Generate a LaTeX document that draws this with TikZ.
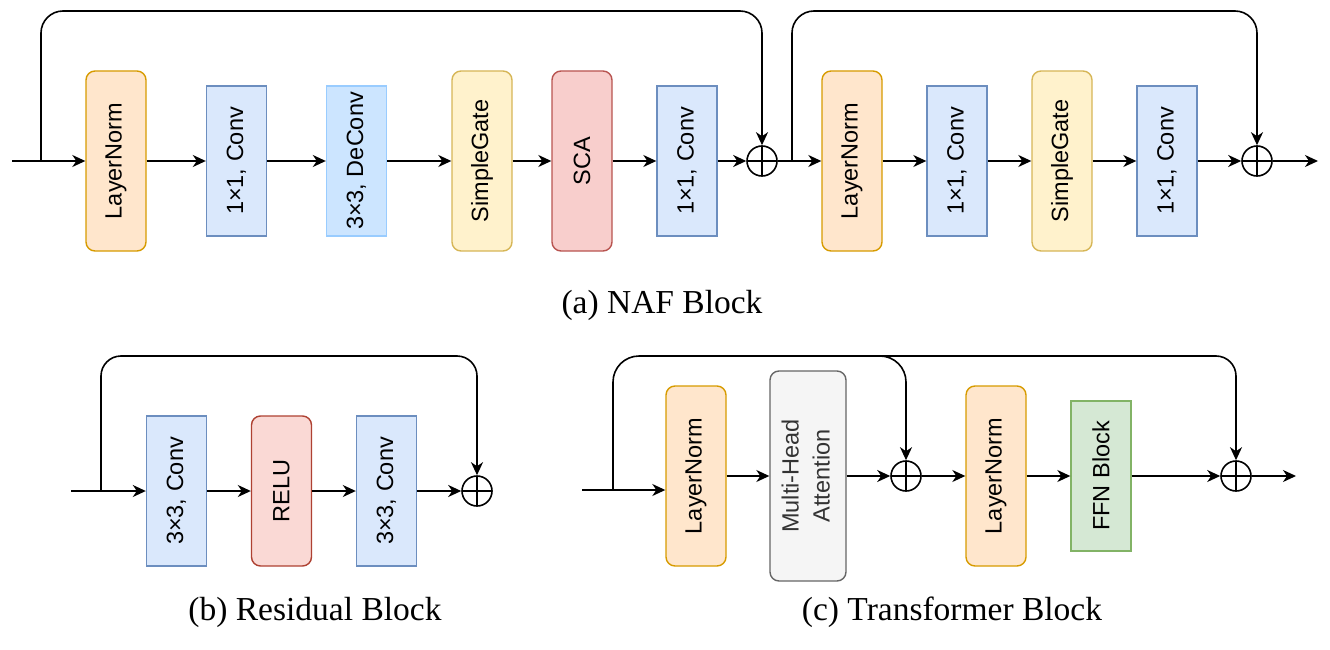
\documentclass[tikz,border=0pt]{standalone}
\usepackage{fontspec}
\usepackage{graphicx}
\setmainfont{Liberation Serif}
\newfontfamily\boxfont{Liberation Sans}
\usetikzlibrary{arrows.meta}
\definecolor{lnfill}{HTML}{FFE6CC}\definecolor{lndraw}{HTML}{D79B00}
\definecolor{cvfill}{HTML}{DAE8FC}\definecolor{cvdraw}{HTML}{6C8EBF}
\definecolor{dcfill}{HTML}{CCE5FF}\definecolor{dcdraw}{HTML}{99CCFF}
\definecolor{sgfill}{HTML}{FFF2CC}\definecolor{sgdraw}{HTML}{D6B656}
\definecolor{scfill}{HTML}{F8CECC}\definecolor{scdraw}{HTML}{B85450}
\definecolor{rlfill}{HTML}{FAD9D5}\definecolor{rldraw}{HTML}{AE4132}
\definecolor{mhfill}{HTML}{F5F5F5}\definecolor{mhdraw}{HTML}{666666}\definecolor{mhtext}{HTML}{333333}
\definecolor{fffill}{HTML}{D5E8D4}\definecolor{ffdraw}{HTML}{82B366}
\tikzset{
  blk/.style={draw, line width=1.4pt, minimum width=60pt, inner sep=0pt,
    font=\boxfont\fontsize{23.5}{31}\selectfont},
  rblk/.style={blk, rounded corners=9pt},
  tallbox/.style={minimum height=180pt},
  shortbox/.style={minimum height=150pt},
  lnbox/.style={rblk, tallbox, fill=lnfill, draw=lndraw},
  cvbox/.style={blk, shortbox, fill=cvfill, draw=cvdraw},
  dcbox/.style={blk, shortbox, fill=dcfill, draw=dcdraw},
  sgbox/.style={rblk, tallbox, fill=sgfill, draw=sgdraw},
  scbox/.style={rblk, tallbox, fill=scfill, draw=scdraw},
  rlbox/.style={rblk, shortbox, fill=rlfill, draw=rldraw},
  mhbox/.style={rblk, minimum width=76pt, minimum height=210pt, fill=mhfill, draw=mhdraw, text=mhtext},
  ffbox/.style={blk, shortbox, fill=fffill, draw=ffdraw},
  arr/.style={line width=1.6pt, -{Stealth[length=13pt,width=12pt,inset=4pt]}},
  oplus/.style={circle, draw, line width=1.6pt, minimum size=30pt, inner sep=0pt,
    path picture={\draw[line width=1.6pt] (path picture bounding box.north) -- (path picture bounding box.south)
      (path picture bounding box.west) -- (path picture bounding box.east);}},
  captxt/.style={font=\fontsize{33.5}{38}\selectfont, anchor=base, inner sep=0pt},
}
\newcommand{\rt}[1]{\rotatebox{90}{#1}}
\begin{document}
\begin{tikzpicture}[x=1pt,y=-1pt]
\useasboundingbox (0,0) rectangle (1330,650);

% ---------------- (a) NAF Block ----------------
\coordinate (ain) at (12,161);
\coordinate (abr) at (41,161);
\node[lnbox] (aln1) at (116,161) {\rt{LayerNorm}};
\node[cvbox] (acv1) at (236.5,161) {\rt{1×1, Conv}};
\node[dcbox] (adc) at (356.5,161) {\rt{3×3, DeConv}};
\node[sgbox] (asg1) at (482,161) {\rt{SimpleGate}};
\node[scbox] (asca) at (582,161) {\rt{SCA}};
\node[cvbox] (acv2) at (687,161) {\rt{1×1, Conv}};
\node[oplus] (aop1) at (762,161) {};
\coordinate (abr2) at (792,161);
\node[lnbox] (aln2) at (852,161) {\rt{LayerNorm}};
\node[cvbox] (acv3) at (957,161) {\rt{1×1, Conv}};
\node[sgbox] (asg2) at (1062,161) {\rt{SimpleGate}};
\node[cvbox] (acv4) at (1167,161) {\rt{1×1, Conv}};
\node[oplus] (aop2) at (1257,161) {};
\coordinate (aout) at (1318,161);

\draw[arr] (ain) -- (aln1);
\draw[arr] (aln1) -- (acv1);
\draw[arr] (acv1) -- (adc);
\draw[arr] (adc) -- (asg1);
\draw[arr] (asg1) -- (asca);
\draw[arr] (asca) -- (acv2);
\draw[arr] (acv2) -- (aop1);
\draw[arr] (aop1) -- (aln2);
\draw[arr] (aln2) -- (acv3);
\draw[arr] (acv3) -- (asg2);
\draw[arr] (asg2) -- (acv4);
\draw[arr] (acv4) -- (aop2);
\draw[arr] (aop2) -- (aout);
\draw[arr, rounded corners=22pt] (abr) -- (41,11) -- (aop1.north |- 0,11) -- (aop1.north);
\draw[arr, rounded corners=22pt] (abr2) -- (792,11) -- (aop2.north |- 0,11) -- (aop2.north);
\node[captxt] (capa) at (662,313) {(a) NAF Block};

% ---------------- (b) Residual Block ----------------
\coordinate (bin) at (71,491);
\coordinate (bbr) at (101,491);
\node[cvbox] (bcv1) at (176.5,491) {\rt{3×3, Conv}};
\node[rlbox] (brl) at (281.5,491) {\rt{RELU}};
\node[cvbox] (bcv2) at (386.5,491) {\rt{3×3, Conv}};
\node[oplus] (bop) at (477,491) {};
\draw[arr] (bin) -- (bcv1);
\draw[arr] (bcv1) -- (brl);
\draw[arr] (brl) -- (bcv2);
\draw[arr] (bcv2) -- (bop);
\draw[arr, rounded corners=20pt] (bbr) -- (101,356) -- (bop.north |- 0,356) -- (bop.north);
\node[captxt] (capb) at (315,620) {(b) Residual Block};

% ---------------- (c) Transformer Block ----------------
\coordinate (cin) at (582,490);
\coordinate (cbr) at (613,490);
\node[lnbox] (cln1) at (696,476) {\rt{LayerNorm}};
\node[mhbox] (cmh) at (808,476) {\rt{\begin{tabular}{@{}c@{}}Multi-Head\\Attention\end{tabular}}};
\node[oplus] (cop1) at (906,476) {};
\node[lnbox] (cln2) at (996,476) {\rt{LayerNorm}};
\node[ffbox] (cff) at (1101,476) {\rt{FFN Block}};
\node[oplus] (cop2) at (1236,476) {};
\coordinate (cout) at (1296,476);
\draw[arr] (cin) -- (cln1.west |- cin);
\draw[arr] (cln1) -- (cmh);
\draw[arr] (cmh) -- (cop1);
\draw[arr] (cop1) -- (cln2);
\draw[arr] (cln2) -- (cff);
\draw[arr] (cff) -- (cop2);
\draw[arr] (cop2) -- (cout);
\draw[arr, rounded corners=26pt] (cbr) -- (613,356) -- (cop1.north |- 0,356) -- (cop1.north);
\draw[arr, rounded corners=20pt] (880,356) -- (cop2.north |- 0,356) -- (cop2.north);
\node[captxt] (capc) at (952,620) {(c) Transformer Block};
\end{tikzpicture}
\end{document}
